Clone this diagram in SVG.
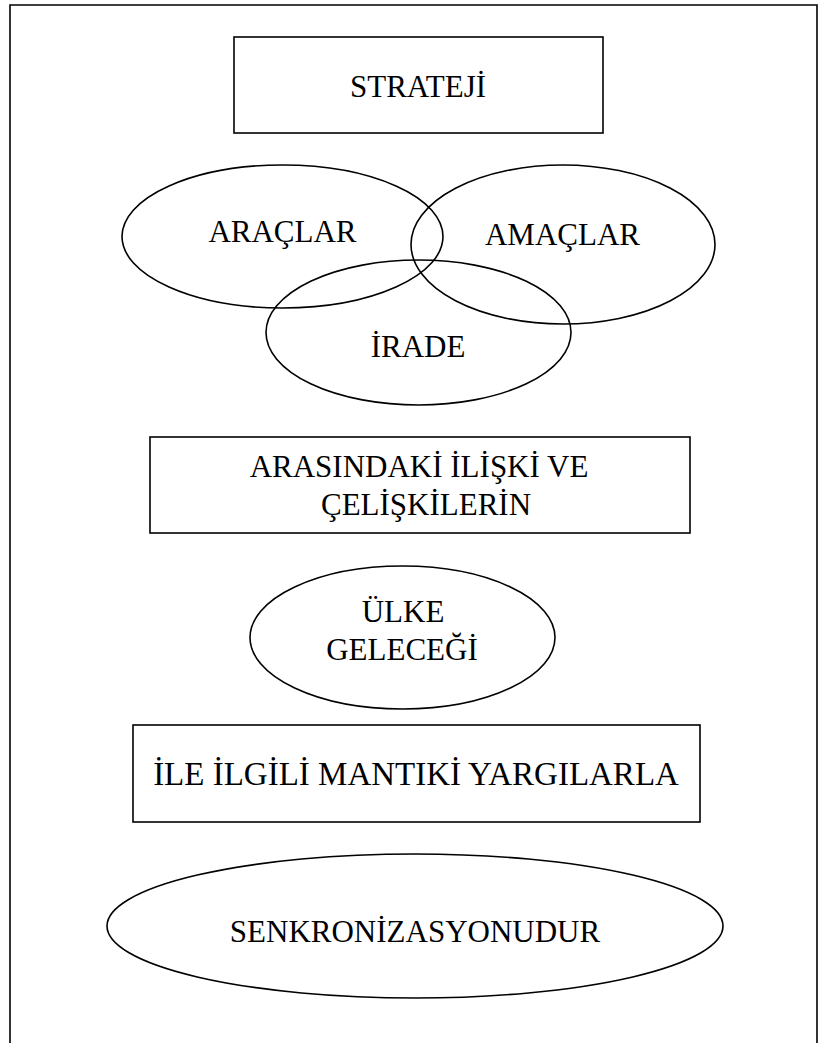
<svg xmlns="http://www.w3.org/2000/svg" width="818" height="1043" viewBox="0 0 818 1043">
<style>
.s{fill:none;stroke:#000;stroke-width:1.6}
.t{font-family:"Liberation Serif","Times New Roman",serif;font-size:31px;fill:#000;text-anchor:middle}
</style>
<rect width="818" height="1043" fill="#fff"/>
<g id="frame"><path class="s" d="M10,1043 V5 H817 V1043" stroke-width="2"/></g>
<g id="strateji"><rect class="s" x="234" y="37" width="369" height="96"/><text class="t" x="418" y="97">STRATEJİ</text></g>
<g id="araclar"><ellipse class="s" cx="282.5" cy="236.5" rx="160.5" ry="71.5"/></g>
<g id="amaclar"><ellipse class="s" cx="563" cy="244.5" rx="152" ry="79.5"/></g>
<g id="irade"><ellipse class="s" cx="418.5" cy="332.5" rx="152.5" ry="72.5"/></g>
<g id="labels-venn">
<text class="t" x="282.5" y="242">ARAÇLAR</text>
<text class="t" x="562.5" y="245">AMAÇLAR</text>
<text class="t" x="418" y="357">İRADE</text>
</g>
<g id="arasindaki"><rect class="s" x="150" y="437" width="540" height="96"/><text class="t" x="419" y="477">ARASINDAKİ İLİŞKİ VE</text><text class="t" x="426" y="515">ÇELİŞKİLERİN</text></g>
<g id="ulke"><ellipse class="s" cx="402.5" cy="637.5" rx="152.5" ry="71.5"/><text class="t" x="403" y="622">ÜLKE</text><text class="t" x="402" y="660">GELECEĞİ</text></g>
<g id="ile"><rect class="s" x="133" y="725" width="567" height="97"/><text class="t" x="416" y="785" style="font-size:33px">İLE İLGİLİ MANTIKİ YARGILARLA</text></g>
<g id="senkron"><ellipse class="s" cx="415" cy="926" rx="308" ry="72"/><text class="t" x="415" y="942">SENKRONİZASYONUDUR</text></g>
<g id="connectors"></g>
</svg>
